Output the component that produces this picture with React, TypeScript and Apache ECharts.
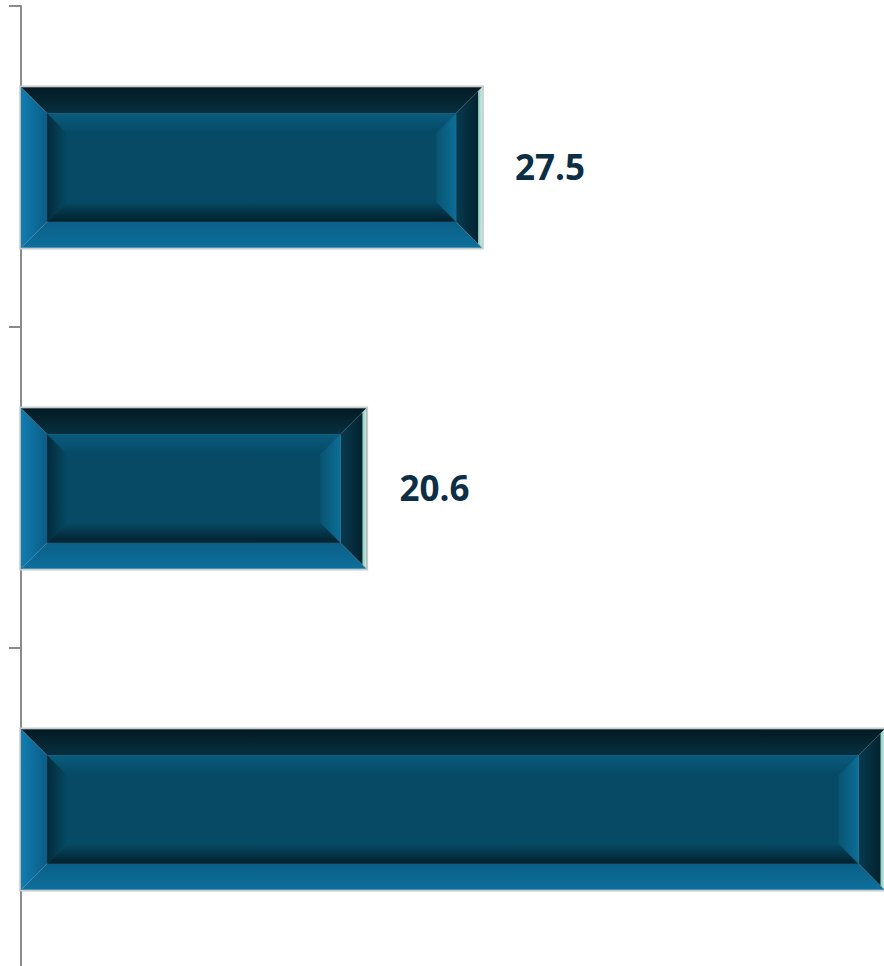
import React, { useEffect, useRef } from "react";
import * as echarts from "echarts";

const categories = ["A", "B", "C"];
const values = [27.5, 20.6, 51.5];
// the third bar's label lies beyond the visible area in the reference
const labelTexts = ["27.5", "20.6", ""];

const lg = (x0: number, y0: number, x1: number, y1: number, c0: string, c1: string) =>
  new echarts.graphic.LinearGradient(x0, y0, x1, y1, [
    { offset: 0, color: c0 },
    { offset: 1, color: c1 },
  ]);

export default function App() {
  const ref = useRef<HTMLDivElement>(null);
  useEffect(() => {
    if (!ref.current) return;
    const chart = echarts.init(ref.current, null, { renderer: "svg" });
    const renderItem = (params: any, api: any) => {
      const idx = api.value(0);
      const val = api.value(1);
      const start = api.coord([0, idx]);
      const end = api.coord([val, idx]);
      const h = api.size([0, 1])[1] * 0.5;
      const x0 = start[0];
      const x1 = end[0];
      const y0 = start[1] - h / 2 + 1;
      const y1 = start[1] + h / 2 + 1;
      const b = 26;
      const ib = 20;
      const ix0 = x0 + b, ix1 = x1 - b, iy0 = y0 + b, iy1 = y1 - b;
      const base = "#064a65";
      const poly = (pts: number[][], fill: any) => ({
        type: "polygon",
        shape: { points: pts },
        style: { fill, stroke: null },
      });
      const children: any[] = [
        {
          type: "rect",
          shape: { x: x0 - 1, y: y0 - 1, width: x1 - x0 + 2, height: y1 - y0 + 2 },
          style: { fill: "none", stroke: "#c8cccc", lineWidth: 1.5 },
        },
        poly([[x0, y0], [x1, y0], [ix1, iy0], [ix0, iy0]], lg(0, 0, 0, 1, "#031a23", "#08303f")),
        poly([[x0, y1], [x1, y1], [ix1, iy1], [ix0, iy1]], lg(0, 1, 0, 0, "#0d6f9c", "#0a5f86")),
        poly([[x0, y0], [ix0, iy0], [ix0, iy1], [x0, y1]], lg(0, 0, 1, 0, "#117db0", "#0a5c86")),
        poly([[x1, y0], [x1, y1], [ix1, iy1], [ix1, iy0]], lg(1, 0, 0, 0, "#031e29", "#073a50")),
        {
          type: "rect",
          shape: { x: ix0, y: iy0, width: ix1 - ix0, height: iy1 - iy0 },
          style: { fill: base },
        },
        poly([[ix0, iy0], [ix1, iy0], [ix1 - ib, iy0 + ib], [ix0 + ib, iy0 + ib]], lg(0, 0, 0, 1, "#0a5b7d", base)),
        poly([[ix0, iy1], [ix1, iy1], [ix1 - ib, iy1 - ib], [ix0 + ib, iy1 - ib]], lg(0, 1, 0, 0, "#02202c", base)),
        poly([[ix0, iy0], [ix0 + ib, iy0 + ib], [ix0 + ib, iy1 - ib], [ix0, iy1]], lg(0, 0, 1, 0, "#032a3a", base)),
        poly([[ix1, iy0], [ix1, iy1], [ix1 - ib, iy1 - ib], [ix1 - ib, iy0 + ib]], lg(1, 0, 0, 0, "#0c6e98", "#08546f")),
        poly([[x1 - 4, y0 + 4], [x1, y0], [x1, y1], [x1 - 4, y1 - 4]], lg(0, 0, 1, 0, "#8fc8c0", "#c8ebe0")),
      ];
      if (labelTexts[idx]) {
        children.push({
          type: "text",
          style: {
            text: labelTexts[idx],
            x: x1 + 33,
            y: start[1],
            verticalAlign: "middle",
            align: "left",
            font: 'bold 35px "Open Sans"',
            fill: "#0c2f45",
          },
        });
      }
      return { type: "group", children };
    };
    chart.setOption({
      animation: false,
      grid: { left: 21, top: 6, width: 1006, height: 963 },
      xAxis: { type: "value", min: 0, max: 60, show: false },
      yAxis: {
        type: "category",
        data: categories,
        inverse: true,
        axisLine: { show: true, lineStyle: { color: "#8a8a8a", width: 2 } },
        axisTick: { show: true, length: 12, lineStyle: { color: "#8a8a8a", width: 2 } },
        axisLabel: { show: false },
        splitLine: { show: false },
      },
      series: [
        {
          type: "custom",
          renderItem,
          clip: false,
          data: values.map((v, i) => [i, v]),
          encode: { x: 1, y: 0 },
        },
      ],
    });
    return () => chart.dispose();
  }, []);
  return (
    <div
      style={{
        position: "fixed",
        left: 0,
        top: 0,
        width: 884,
        height: 966,
        overflow: "hidden",
        background: "#fff",
      }}
    >
      <div ref={ref} style={{ width: 1100, height: 980 }} />
    </div>
  );
}
